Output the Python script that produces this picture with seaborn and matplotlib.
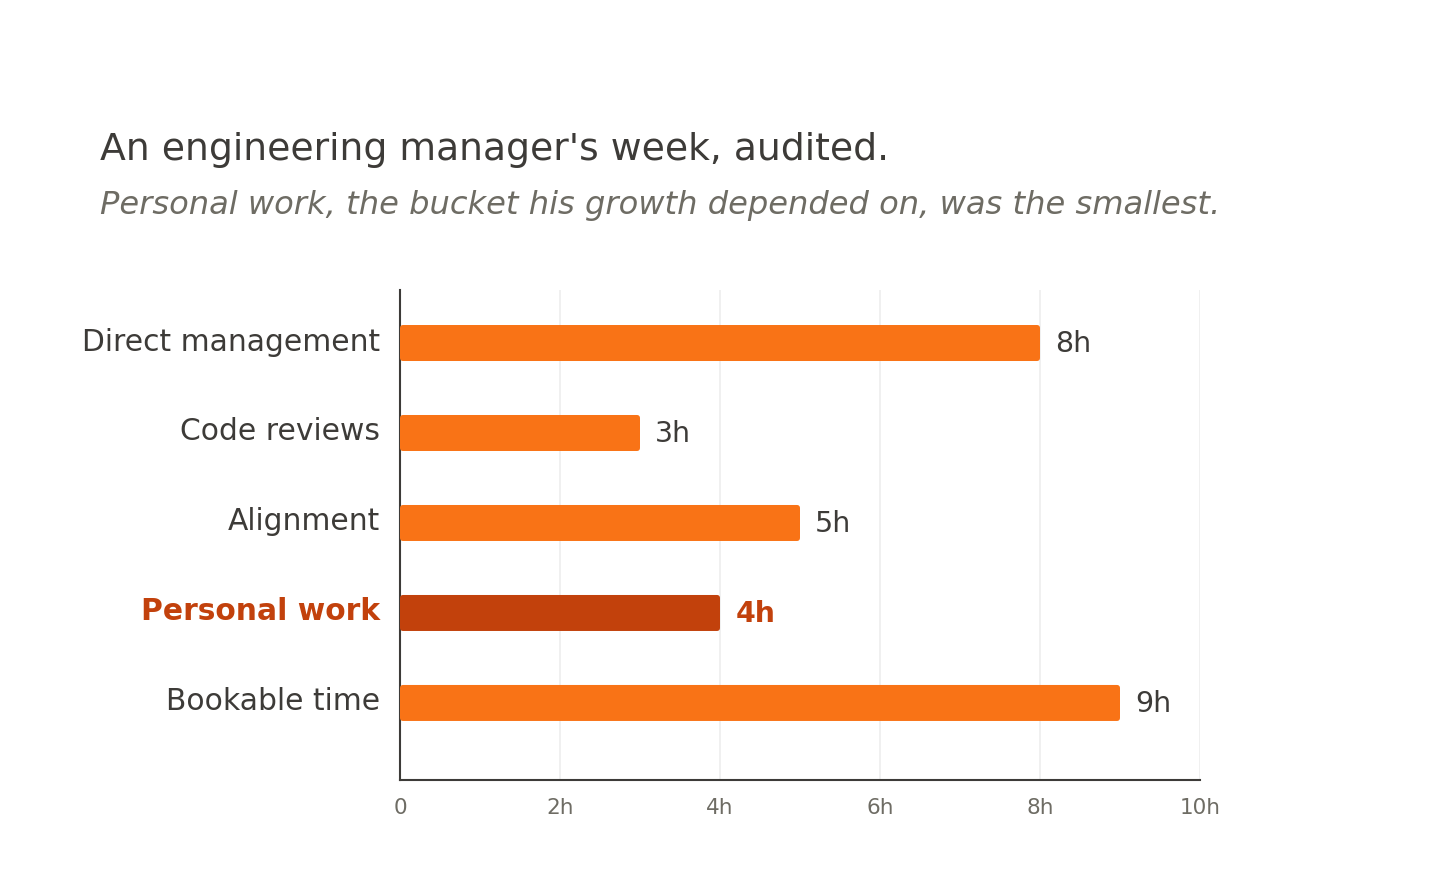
import matplotlib
matplotlib.use("Agg")
import matplotlib.pyplot as plt
import matplotlib.transforms as mtransforms
from matplotlib.patches import FancyBboxPatch
import seaborn as sns
import pandas as pd

# --- data ---
categories = ["Direct management", "Code reviews", "Alignment", "Personal work", "Bookable time"]
hours = [8, 3, 5, 4, 9]
highlight = "Personal work"
x_ticks = [0, 2, 4, 6, 8, 10]
x_tick_labels = ["0", "2h", "4h", "6h", "8h", "10h"]

title = "An engineering manager's week, audited."
subtitle = "Personal work, the bucket his growth depended on, was the smallest."

# --- colours ---
ORANGE = "#F97316"
DARK_ORANGE = "#C2410C"
TEXT = "#3D3B38"
MUTED = "#6E6C64"
GRID = "#EEEEEE"

df = pd.DataFrame({"category": categories, "hours": hours})
palette = {c: (DARK_ORANGE if c == highlight else ORANGE) for c in categories}

sns.set_theme(style="white")
plt.rcParams["font.family"] = ["DejaVu Sans"]

fig = plt.figure(figsize=(14.56, 8.70), dpi=100)
ax = fig.add_axes([400 / 1456, 1 - 781 / 870, 800 / 1456, 490 / 870])

sns.barplot(data=df, x="hours", y="category", hue="category", palette=palette,
            order=categories, width=0.4, legend=False, ax=ax, saturation=1)

# swap plain bars for slightly rounded ones
for patch in list(ax.patches):
    x0, y0 = patch.get_x(), patch.get_y()
    w, h = patch.get_width(), patch.get_height()
    rounded = FancyBboxPatch((x0, y0), w, h,
                             boxstyle="round,pad=0,rounding_size=0.04",
                             mutation_aspect=0.9,
                             facecolor=patch.get_facecolor(), edgecolor="none", zorder=3)
    patch.remove()
    ax.add_patch(rounded)

ax.set_xlim(0, 10)
ax.set_ylim(4.856, -0.589)
ax.set_xticks(x_ticks)
ax.set_xticklabels(x_tick_labels)
ax.xaxis.grid(True, color=GRID, linewidth=1.2, zorder=0)
ax.set_axisbelow(True)
ax.set_xlabel("")
ax.set_ylabel("")

for side in ["top", "right"]:
    ax.spines[side].set_visible(False)
for side in ["left", "bottom"]:
    ax.spines[side].set_color(TEXT)
    ax.spines[side].set_linewidth(1.5)

ax.tick_params(axis="x", length=0, pad=12, labelsize=15.5, labelcolor=MUTED)
ax.tick_params(axis="y", length=0, pad=14.4, labelsize=21.4)
# category labels sit a touch above the bar centre
nudge = mtransforms.ScaledTranslation(0, 5 / 100, fig.dpi_scale_trans)
for lbl in ax.get_yticklabels():
    lbl.set_transform(lbl.get_transform() + nudge)
    if lbl.get_text() == highlight:
        lbl.set_color(DARK_ORANGE)
        lbl.set_fontweight("bold")
    else:
        lbl.set_color(TEXT)

# value labels
for i, (cat, val) in enumerate(zip(categories, hours)):
    is_hl = cat == highlight
    ax.text(val + 0.19, i, f"{val}h", va="center", ha="left", fontsize=20.5,
            color=DARK_ORANGE if is_hl else TEXT,
            fontweight="bold" if is_hl else "normal")

fig.text(100 / 1456, 1 - 160 / 870, title, fontsize=27.2, color=TEXT, va="baseline", ha="left")
fig.text(100 / 1456, 1 - 214 / 870, subtitle, fontsize=23.1, color=MUTED, style="italic",
         va="baseline", ha="left")

fig.savefig("out.png", dpi=100, facecolor="white")
